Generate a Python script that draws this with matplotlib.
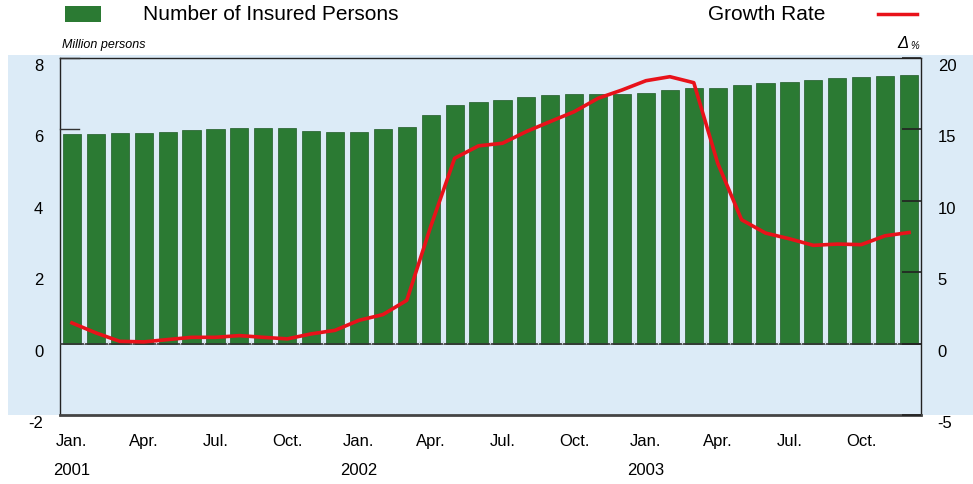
import matplotlib.pyplot as plt
import matplotlib.transforms as mtrans
import numpy as np
from matplotlib.patches import Rectangle
from matplotlib.lines import Line2D

plt.rcParams["font.family"] = ["Liberation Sans", "DejaVu Sans"]
plt.rcParams["axes.unicode_minus"] = False

# monthly data, Jan 2001 - Dec 2003
insured = [5.86, 5.88, 5.89, 5.89, 5.92, 5.97, 6.02, 6.04, 6.05, 6.03, 5.96, 5.94,
           5.94, 6.00, 6.07, 6.39, 6.68, 6.78, 6.83, 6.90, 6.95, 6.98, 6.99, 6.98,
           7.02, 7.09, 7.15, 7.17, 7.24, 7.30, 7.34, 7.38, 7.44, 7.46, 7.50, 7.52]
growth = [1.45, 0.75, 0.16, 0.12, 0.28, 0.44, 0.44, 0.56, 0.44, 0.33, 0.68, 0.93,
          1.63, 2.03, 3.03, 8.2, 12.98, 13.85, 14.03, 14.85, 15.55, 16.24, 17.18, 17.76,
          18.41, 18.69, 18.27, 12.63, 8.67, 7.74, 7.34, 6.88, 6.97, 6.93, 7.55, 7.78]
month_labels = ["Jan.", "Apr.", "Jul.", "Oct."] * 3
years = ["2001", "2002", "2003"]

green = "#2b7a33"
red = "#e8121a"
bg = "#dcebf7"

fig = plt.figure(figsize=(9.73, 4.84), dpi=100)
# light blue panel behind the chart
fig.patches.append(Rectangle((0.008, 1 - 415 / 484), 0.992, (415 - 55) / 484,
                             transform=fig.transFigure, facecolor=bg, edgecolor="none", zorder=-5))

ax = fig.add_axes([60 / 973, 1 - 415 / 484, (921 - 60) / 973, (415 - 58) / 484])
ax.set_facecolor(bg)
x = np.arange(len(insured))
ax.bar(x, insured, width=0.76, color=green, edgecolor="#1f5a26", linewidth=0.5, zorder=2)
ax.axhline(0, color="#333333", lw=1.2, zorder=3)
ax.set_xlim(-0.5, len(insured) - 0.5)
ax.set_ylim(-2, 8)
ax.set_yticks([-2, 0, 2, 4, 6, 8])
ax.set_yticklabels(["-2", "0", "2", "4", "6", "8"])
ax.tick_params(axis="y", direction="in", length=0, labelsize=12, pad=12)
ax.set_xticks(np.arange(0, 36, 3))
ax.set_xticklabels(month_labels)
ax.tick_params(axis="x", which="major", length=0, labelsize=12, pad=14)
for s in ax.spines.values():
    s.set_color("#222222")
    s.set_linewidth(1.0)
ax.spines["bottom"].set_linewidth(2.0)
ax.spines["bottom"].set_color("#444444")
# small inner tick marks on left axis
for v in [6, 8]:
    ax.plot([-0.5, 0.3], [v, v], color="#333333", lw=1, zorder=4, clip_on=False)
# tiny marks at the base of each bar
ax.vlines(x + 0.5, 0, 0.07, color="#cfd8e0", lw=0.8, zorder=3)

ax2 = ax.twinx()
ax2.plot(x, growth, color=red, lw=2.6, zorder=5, solid_joinstyle="round")
ax2.set_ylim(-5, 20)
ax2.set_yticks([-5, 0, 5, 10, 15, 20])
ax2.set_yticklabels(["-5", "0", "5", "10", "15", "20"])
ax2.tick_params(axis="y", direction="in", length=14, width=1.2, color="#222222", labelsize=12, pad=12)
for s in ax2.spines.values():
    s.set_visible(False)

# shift y tick labels slightly down like the reference
off = mtrans.ScaledTranslation(0, -5 / 72, fig.dpi_scale_trans)
for lbl in ax.get_yticklabels() + ax2.get_yticklabels():
    lbl.set_transform(lbl.get_transform() + off)

# years under Jan.
for i, yr in enumerate(years):
    ax.text(i * 12, -0.135, yr, transform=ax.get_xaxis_transform(), ha="center", va="top", fontsize=12)

# axis unit labels
fig.text(62 / 973, 1 - 45 / 484, "Million persons", fontsize=9, style="italic", va="center")
fig.text(897 / 973, 1 - 44 / 484, "Δ", fontsize=12, style="italic", va="center")
fig.text(910 / 973, 1 - 46 / 484, "%", fontsize=7, style="italic", va="center")

# legend
fig.patches.append(Rectangle((65 / 973, 1 - 22 / 484), 36 / 973, 16 / 484,
                             transform=fig.transFigure, facecolor=green, edgecolor="none"))
fig.text(143 / 973, 1 - 15 / 484, "Number of Insured Persons", fontsize=15, va="center")
fig.text(708 / 973, 1 - 15 / 484, "Growth Rate", fontsize=15, va="center")
fig.lines.append(Line2D([878 / 973, 917 / 973], [1 - 14 / 484, 1 - 14 / 484],
                        transform=fig.transFigure, color=red, lw=2.5))

fig.savefig("out.png", dpi=100)
